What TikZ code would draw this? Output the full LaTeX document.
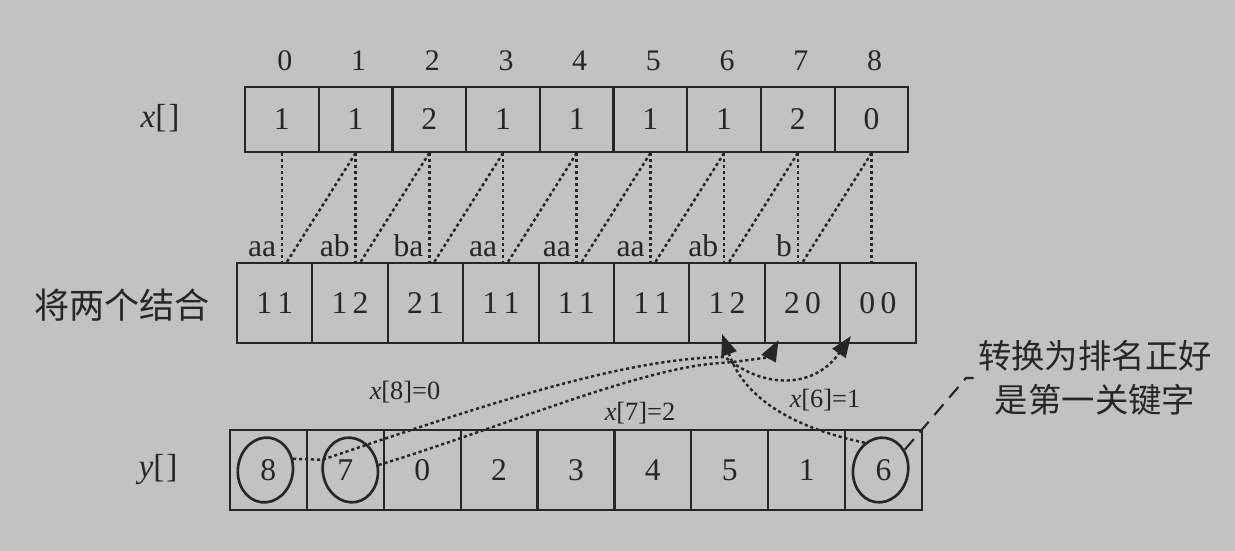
\documentclass[tikz,border=0pt]{standalone}
\usepackage{fontspec}
\setmainfont{Liberation Serif}
\newfontfamily\cjk{Noto Sans CJK SC}
\usetikzlibrary{arrows.meta,positioning,calc,shapes.geometric}
\definecolor{paper}{HTML}{C4C2BF}
\definecolor{ink}{HTML}{262626}

\begin{document}
\begin{tikzpicture}[x=0.02cm, y=0.02cm, line width=1.2pt, ink,
    cell/.style={draw=ink, minimum height=1.6cm, inner sep=0pt, font=\fontsize{18}{20}\selectfont},
    xcell/.style={cell, minimum width=1.474cm, minimum height=1.3cm},
    mcell/.style={cell, minimum width=1.508cm},
    ycell/.style={cell, minimum width=1.538cm},
    ring/.style={draw=ink, ellipse, line width=1.5pt, minimum width=1.1cm, minimum height=1.3cm, inner sep=0pt},
    lbl/.style={font=\fontsize{19}{22}\selectfont},
    idx/.style={font=\fontsize{17}{20}\selectfont},
    tag/.style={font=\fontsize{18}{20}\selectfont, inner sep=1pt},
    key/.style={font=\fontsize{15}{17}\selectfont},
    note/.style={font=\cjk\fontsize{19}{25}\selectfont, align=center, inner sep=2pt},
    dots/.style={dash pattern=on 1.8pt off 1.6pt, line width=1.4pt},
    link/.style={dots, -{Triangle[length=12pt,width=9pt]}},
    callout/.style={dash pattern=on 8pt off 5pt}]
  \fill[paper] (0,0) rectangle (1235,-551);

  % rows
  \foreach \v [count=\i from 0] in {1,1,2,1,1,1,1,2,0}
    \node[xcell] (x\i) at ({281.9+73.7*\i},-119.5) {\v};
  \foreach \v [count=\i from 0] in {1\kern3pt1,1\kern3pt2,2\kern3pt1,1\kern3pt1,1\kern3pt1,1\kern3pt1,1\kern3pt2,2\kern3pt0,0\kern3pt0}
    \node[mcell] (m\i) at ({274.7+75.4*\i},-303) {\v};
  \foreach \v [count=\i from 0] in {8,7,0,2,3,4,5,1,6}
    \node[ycell] (y\i) at ({268.4+76.9*\i},-470) {\v};
  \foreach \i in {0,...,8}
    \node[idx] (n\i) at ($(x\i.north)+(3,25)$) {\i};

  \node[lbl] (xl) at (160,-118) {\textit{x}[\kern1pt]};
  \node[lbl, font=\cjk\fontsize{20}{22}\selectfont] (ml) at (122,-305) {将两个结合};
  \node[lbl] (yl) at (158,-470) {\textit{y}[\kern1pt]};

  % pairs
  \foreach \i in {0,...,8} {
    \coordinate (p\i) at (x\i.south |- m\i.north);
    \coordinate (q\i) at ($(p\i)+(5,0)$);
    \draw[dots] (x\i.south) -- (p\i);
  }
  \foreach \i [count=\j] in {0,...,7}
    \draw[dots] (x\j.south) -- (q\i);
  \foreach \t [count=\i from 0] in {aa,ab,ba,aa,aa,aa,ab,b}
    \node[tag, anchor=south east] (t\i) at ($(p\i)+(-3,2)$) {\t};

  % second key
  \node[ring, rotate=-8] (c8) at ($(y0)+(-3,0)$) {};
  \node[ring, rotate=10] (c7) at ($(y1)+(5,0)$) {};
  \node[ring, rotate=-10] (c6) at ($(y8)+(-3,0)$) {};

  \draw[link] (c8.30) -- (c7.150) .. controls (470,-410) and (620,-358) .. (725,-357)
    .. controls (765,-390) and (815,-388) .. ($(m8.south)+(-27,8)$);
  \draw[link] (c7.east) .. controls (500,-428) and (640,-368) .. (720,-363)
    .. controls (750,-361) and (770,-356) .. ($(m7.south)+(-24,4)$);
  \draw[link] (c6.130) .. controls (795,-428) and (745,-400) .. ($(m6.south)+(-5,10)$);

  \node[key] (k8) at (405,-392) {\textit{x}[8]=0};
  \node[key] (k7) at (640,-413) {\textit{x}[7]=2};
  \node[key] (k6) at (825,-400) {\textit{x}[6]=1};

  \node[note] (note) at (1095,-378) {转换为排名正好\\是第一关键字};
  \coordinate (bend) at (966,-378);
  \draw[callout] (c6.50) -- (bend) -- (note.west |- bend);
\end{tikzpicture}
\end{document}
